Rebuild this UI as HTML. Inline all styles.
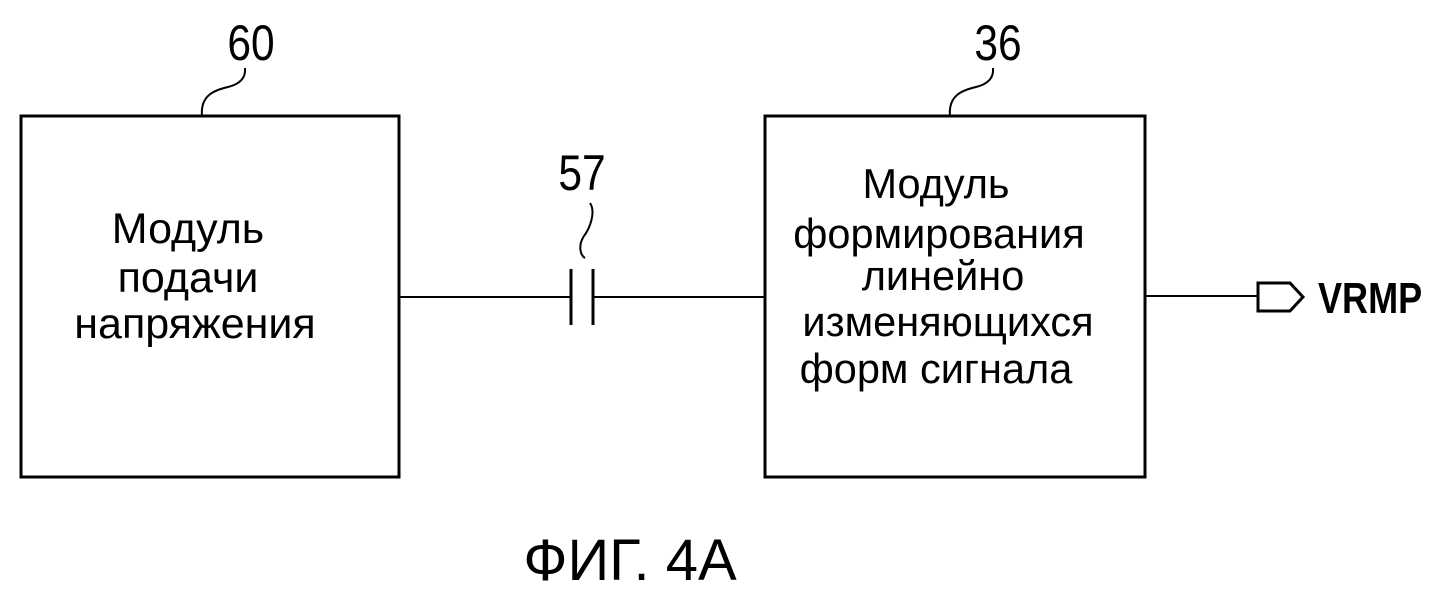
<!DOCTYPE html>
<html><head><meta charset="utf-8"><style>
html,body{margin:0;padding:0;background:#fff;}
body{width:1440px;height:592px;position:relative;overflow:hidden;}
svg{position:absolute;left:0;top:0;}
text{font-family:"Liberation Sans",sans-serif;fill:#000;}
</style></head><body>
<svg width="1440" height="592" viewBox="0 0 1440 592">
<g fill="none" stroke="#000">
<rect x="21" y="116" width="378" height="361" stroke-width="3"/>
<rect x="765" y="116" width="380" height="361" stroke-width="3"/>
<line x1="400" y1="297" x2="570" y2="297" stroke-width="2"/>
<line x1="594" y1="297" x2="765" y2="297" stroke-width="2"/>
<line x1="571" y1="269" x2="571" y2="325" stroke-width="3"/>
<line x1="593" y1="269" x2="593" y2="325" stroke-width="3"/>
<line x1="1146" y1="296" x2="1258" y2="296" stroke-width="2"/>
<path d="M1258 283 H1290 L1303 297 L1290 311 H1258 Z" stroke-width="3"/>
<path d="M202 116 C200 95 215 90 228 87 C240 84 246 78 245 68" stroke-width="2"/>
<path d="M950 116 C948 95 963 90 976 87 C988 84 994 78 993 68" stroke-width="2"/>
<path d="M590 203 C596 212 590 228 584 236 C578 245 580 255 585 258" stroke-width="2"/>
</g>
<g font-size="43" text-anchor="middle">
<text x="188" y="243">Модуль</text>
<text x="188" y="292">подачи</text>
<text x="195" y="338">напряжения</text>
</g>
<g font-size="41.5" text-anchor="middle">
<text x="936" y="198">Модуль</text>
<text x="939" y="248">формирования</text>
<text x="943" y="290">линейно</text>
<text x="948" y="336">изменяющихся</text>
<text x="936" y="383">форм сигнала</text>
</g>
<g font-size="50" text-anchor="middle">
<text x="251" y="60" transform="translate(251 0) scale(0.85 1) translate(-251 0)">60</text>
<text x="998" y="60" transform="translate(998 0) scale(0.85 1) translate(-998 0)">36</text>
<text x="582" y="190" transform="translate(582 0) scale(0.85 1) translate(-582 0)">57</text>
</g>
<text x="1318" y="313" font-size="44" font-weight="bold" transform="translate(1318 0) scale(0.82 1) translate(-1318 0)">VRMP</text>
<text x="630" y="580" font-size="58" text-anchor="middle">ФИГ. 4A</text>
</svg>
</body></html>
